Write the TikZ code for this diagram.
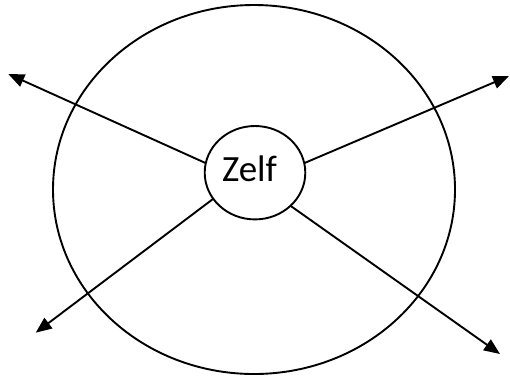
\documentclass[tikz,border=0pt]{standalone}
\usepackage{fontspec}
\setmainfont{Carlito}
\usetikzlibrary{arrows.meta,shapes.geometric}
\tikzset{
  ring/.style={draw, ellipse, line width=1.9pt, inner sep=0pt, outer sep=0pt},
  ray/.style={line width=1.9pt, -{Triangle[length=16pt,width=13pt]}}
}
\begin{document}
\begin{tikzpicture}[x=1pt,y=-1pt]
\useasboundingbox (0,0) rectangle (510,376);
\node[ring, minimum width=402pt, minimum height=369pt] (outer) at (254,189.5) {};
\node[ring, minimum width=100.6pt, minimum height=93.4pt] (zelf) at (255,172.7) {};
\node[anchor=base, inner sep=0pt, font=\fontsize{37}{40}\selectfont] (lbl) at (249.5,181.7) {Zelf};
\coordinate (tul) at (8.3,74);
\coordinate (tur) at (509,76);
\coordinate (tll) at (35.7,332.7);
\coordinate (tlr) at (500,354);
\draw[ray] (zelf.169.4) -- (tul);
\draw[ray] (zelf.11.7) -- (tur);
\draw[ray] (zelf.212.2) -- (tll);
\draw[ray] (zelf.317.9) -- (tlr);
\end{tikzpicture}
\end{document}
